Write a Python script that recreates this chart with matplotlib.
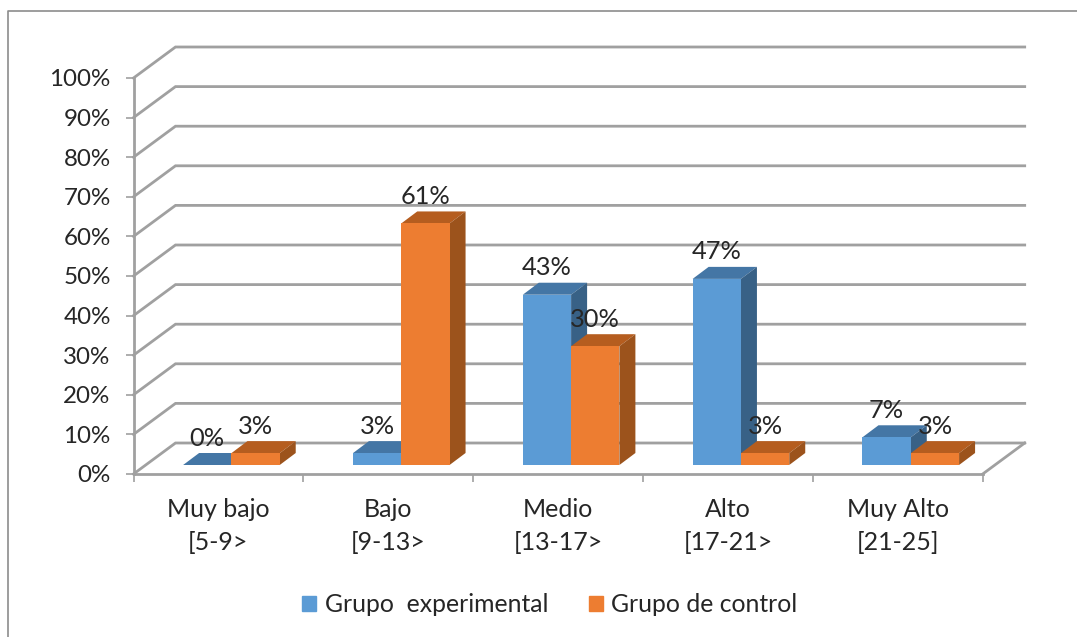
import matplotlib
matplotlib.use("Agg")
import matplotlib.pyplot as plt
from matplotlib.lines import Line2D
from matplotlib.patches import Patch

niveles = ["Muy bajo\n[5-9>", "Bajo\n[9-13>", "Medio\n[13-17>", "Alto\n[17-21>", "Muy Alto\n[21-25]"]
experimental = [0, 3, 43, 47, 7]
control = [3, 61, 30, 3, 3]
marcas_y = [0, 10, 20, 30, 40, 50, 60, 70, 80, 90, 100]

W, H = 1077, 637
plt.rcParams["font.family"] = ["Lato", "DejaVu Sans"]
TXT = "#262626"
GRIS = "#a0a0a0"

fig = plt.figure(figsize=(W / 100, H / 100), dpi=100)
ax = fig.add_axes([133.5 / W, (H - 474) / H, 849.2 / W, 396 / H])
ax.set_xlim(0, 5)
ax.set_ylim(0, 100)

# pixeles a unidades de datos, para la profundidad falsa del 3D
px = 5 / 849.2
py = 100 / 396

# pared del fondo y piso
prof_x, prof_y = 42 * px, 31 * py
for v in marcas_y:
    ax.plot([0, prof_x, 5 + prof_x], [v, v + prof_y, v + prof_y], color=GRIS, lw=2,
            clip_on=False, zorder=1, solid_joinstyle="miter")
ax.plot([5, 5 + prof_x], [0, prof_y], color=GRIS, lw=2, clip_on=False, zorder=1)

# barras: cara frontal, tapa y costado
ancho = 48.3 * px
desp_x, desp_y = 13 * px, 9 * py
bar_x, bar_y = 16 * px, 12 * py


def caja(x0, alto, frente, tapa, lado):
    x1 = x0 + ancho
    y0 = desp_y
    y1 = desp_y + alto
    ax.fill([x0, x0 + bar_x, x1 + bar_x, x1], [y1, y1 + bar_y, y1 + bar_y, y1], color=tapa,
            lw=0, clip_on=False, zorder=3)
    ax.fill([x1, x1 + bar_x, x1 + bar_x, x1], [y0, y0 + bar_y, y1 + bar_y, y1], color=lado,
            lw=0, clip_on=False, zorder=3)
    ax.bar(x0, alto, width=ancho, bottom=y0, align="edge", color=frente, lw=0, zorder=3,
           clip_on=False)


for i in range(5):
    centro = i + 0.5 + desp_x
    caja(centro - ancho, experimental[i], "#5b9bd5", "#4476a5", "#386186")
    caja(centro, control[i], "#ed7d31", "#b55d1f", "#9c531c")

# etiquetas de cada barra
for i in range(5):
    centro = i + 0.5 + desp_x
    ax.text(centro - ancho / 2, experimental[i] + desp_y + 27 * py, f"{experimental[i]}%",
            ha="center", va="center", fontsize=18.3, color=TXT, zorder=5)
    ax.text(centro + ancho / 2, control[i] + desp_y + 27 * py, f"{control[i]}%",
            ha="center", va="center", fontsize=18.3, color=TXT, zorder=5)

# ejes
ax.patch.set_visible(False)
for lado in ["top", "right"]:
    ax.spines[lado].set_visible(False)
for lado in ["left", "bottom"]:
    ax.spines[lado].set_color(GRIS)
    ax.spines[lado].set_linewidth(2)

ax.set_yticks(marcas_y)
ax.set_yticklabels([f"{v}%" for v in marcas_y], fontsize=17.4, color=TXT)
ax.tick_params(axis="y", length=5.5, width=1.2, color=GRIS, pad=11)

ax.set_xticks(range(6))
ax.set_xticklabels([])
ax.tick_params(axis="x", which="major", length=6, width=1.2, color=GRIS)
ax.set_xticks([i + 0.5 for i in range(5)], minor=True)
ax.set_xticklabels(niveles, minor=True, fontsize=18, color=TXT, linespacing=1.56)
ax.tick_params(axis="x", which="minor", length=0, pad=17)

leyenda = [Patch(color="#5b9bd5", label="Grupo  experimental"),
           Patch(color="#ed7d31", label="Grupo de control")]
fig.legend(handles=leyenda, loc="center", bbox_to_anchor=(550 / W, (H - 604.5) / H), ncol=2,
           frameon=False, fontsize=17.8, handlelength=0.57, handleheight=0.57, handletextpad=0.33,
           columnspacing=1.66, labelcolor=TXT)

# marco exterior
fig.add_artist(Line2D([8 / W, 8 / W, 1], [0, (H - 11) / H, (H - 11) / H], color="#8c8c8c", lw=1.2))

fig.savefig("out.png", dpi=100)
